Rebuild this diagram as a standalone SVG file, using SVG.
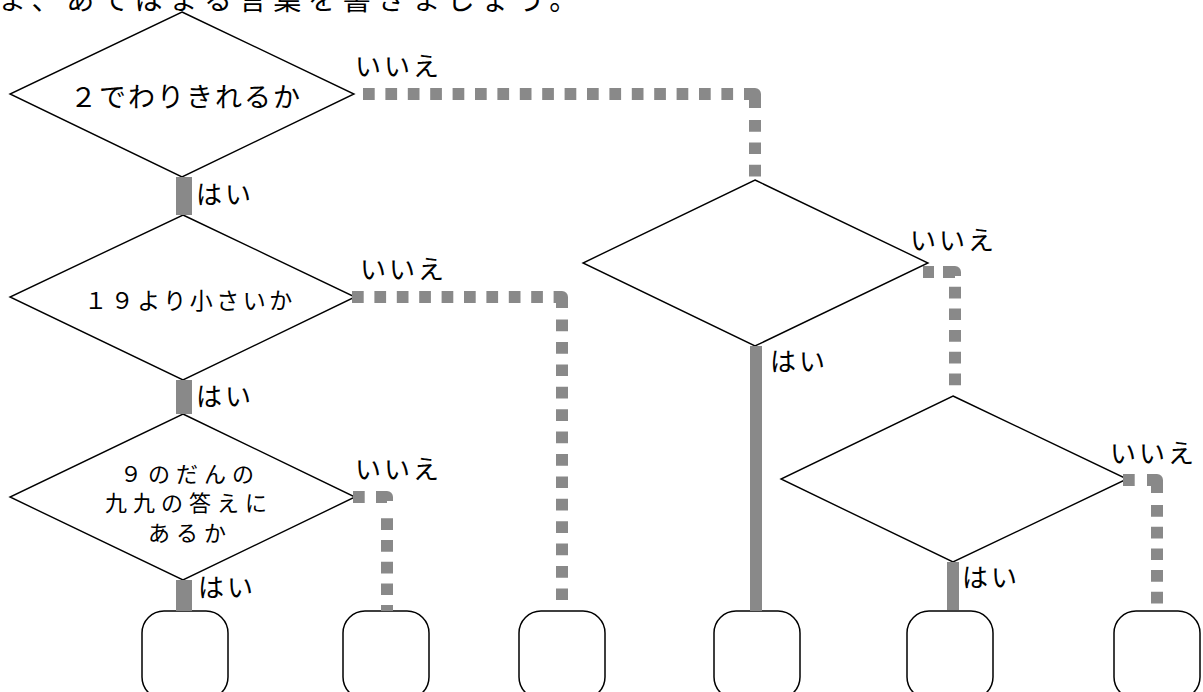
<svg xmlns="http://www.w3.org/2000/svg" width="1203" height="692" viewBox="0 0 1203 692">
<style>
text{font-family:"Noto Sans CJK JP","Noto Sans CJK SC",sans-serif;fill:#000}
.dia{fill:#fff;stroke:#000;stroke-width:1.4}
.box{fill:#fff;stroke:#000;stroke-width:1.5}
.lbl{font-size:26px;letter-spacing:3px}
.solidW{fill:none;stroke:#898989;stroke-width:16}
.solid{fill:none;stroke:#898989;stroke-width:12}
.dot{fill:none;stroke:#898989;stroke-width:12;stroke-dasharray:11.7 10.7}
.dot2{fill:none;stroke:#898989;stroke-width:12;stroke-dasharray:11.7 10}
.corner{fill:none;stroke:#898989;stroke-width:12;stroke-linejoin:round}
</style>
<rect width="1203" height="692" fill="#fff"/>
<text x="-2" y="10" style="font-size:28px;letter-spacing:6.7px">ま、あてはまる言葉を書きましょう。</text>

<g id="nodes">
<g id="q1"><polygon class="dia" points="182,12 354,94 182,177 10,94"/><text x="186" y="107" text-anchor="middle" style="font-size:27px;letter-spacing:2px">２でわりきれるか</text></g>
<g id="q2"><polygon class="dia" points="183,215 355,297 183,380 10,297"/><text x="190" y="309" text-anchor="middle" style="font-size:23px;letter-spacing:3.5px">１９より小さいか</text></g>
<g id="q3"><polygon class="dia" points="183,414 355,497 183,580 10,497"/>
<text text-anchor="middle" style="font-size:22px;letter-spacing:6px"><tspan x="190" y="482">９のだんの</tspan><tspan x="189" y="511">九九の答えに</tspan><tspan x="190" y="541">あるか</tspan></text></g>
<g id="q4"><polygon class="dia" points="755,180 928,263 755,346 583,263"/></g>
<g id="q5"><polygon class="dia" points="953,396 1127,479 953,562 781,479"/></g>
<g id="a1"><rect class="box" x="142" y="611" width="86" height="88" rx="22"/></g>
<g id="a2"><rect class="box" x="343" y="611" width="86" height="88" rx="22"/></g>
<g id="a3"><rect class="box" x="519" y="611" width="86" height="88" rx="22"/></g>
<g id="a4"><rect class="box" x="714" y="611" width="86" height="88" rx="22"/></g>
<g id="a5"><rect class="box" x="907" y="611" width="86" height="88" rx="22"/></g>
<g id="a6"><rect class="box" x="1114" y="611" width="86" height="88" rx="22"/></g>
</g>

<g id="connectors">
<path class="solidW" d="M184 177V215"/>
<path class="solidW" d="M184 380V414"/>
<path class="solidW" d="M184 580V611"/>
<path class="solid" d="M756 346V611"/>
<path class="solid" d="M953 562V610"/>

<path class="dot" d="M363 94H735"/>
<path class="corner" d="M744 94H755V108"/>
<path class="dot" d="M755 120V177"/>

<path class="dot" d="M352 297H543"/>
<path class="corner" d="M553.6 297H562V308"/>
<path class="dot" d="M562 319.6V601"/>

<path class="dot" d="M353 497H365"/>
<path class="corner" d="M376 497H387V501"/>
<path class="dot2" d="M387 518.3V611"/>

<path class="dot" d="M923 272H934"/>
<path class="corner" d="M943 272H955V276"/>
<path class="dot2" d="M955 286.7V386"/>

<path class="dot" d="M1123 480H1135"/>
<path class="corner" d="M1147 480H1157V493"/>
<path class="dot2" d="M1157 505V604"/>
</g>

<g id="labels">
<text class="lbl" x="196" y="204">はい</text>
<text class="lbl" x="196" y="406">はい</text>
<text class="lbl" x="198" y="597">はい</text>
<text class="lbl" x="770" y="371">はい</text>
<text class="lbl" x="962" y="587">はい</text>
<text class="lbl" x="355" y="76">いいえ</text>
<text class="lbl" x="360" y="279">いいえ</text>
<text class="lbl" x="355" y="479">いいえ</text>
<text class="lbl" x="910" y="250">いいえ</text>
<text class="lbl" x="1110" y="463">いいえ</text>
</g>
</svg>
